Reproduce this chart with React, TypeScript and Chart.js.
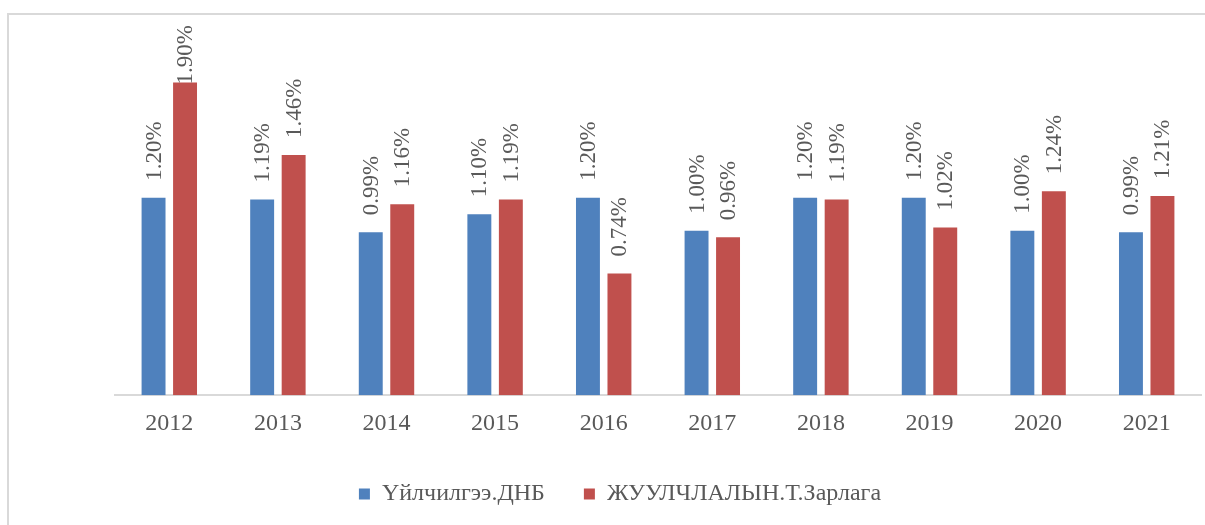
import React, { useEffect, useRef } from "react";
import { Chart, registerables } from "chart.js";

Chart.register(...registerables);

const years = ["2012", "2013", "2014", "2015", "2016", "2017", "2018", "2019", "2020", "2021"];
const serviceGdp = [1.2, 1.19, 0.99, 1.1, 1.2, 1.0, 1.2, 1.2, 1.0, 0.99];
const tourismSpend = [1.9, 1.46, 1.16, 1.19, 0.74, 0.96, 1.19, 1.02, 1.24, 1.21];
const seriesNames = ["Үйлчилгээ.ДНБ", "ЖУУЛЧЛАЛЫН.Т.Зарлага"];
const seriesColors = ["#4f81bd", "#c0504d"];

const FONT = "'Liberation Serif', 'Times New Roman', serif";
const TEXT = "#595959";

Chart.defaults.font.family = FONT;
Chart.defaults.color = TEXT;

const framePlugin = {
  id: "frame",
  beforeDraw(chart: any) {
    const ctx = chart.ctx;
    ctx.save();
    ctx.fillStyle = "#ffffff";
    ctx.fillRect(0, 0, chart.width, chart.height);
    ctx.strokeStyle = "#d9d9d9";
    ctx.lineWidth = 2;
    ctx.strokeRect(8, 14, chart.width + 100, chart.height + 100);
    ctx.restore();
  },
};

const labelPlugin = {
  id: "vlabels",
  afterDatasetsDraw(chart: any) {
    const ctx = chart.ctx;
    const top = chart.chartArea.top;
    ctx.save();
    ctx.font = `23px ${FONT}`;
    ctx.fillStyle = TEXT;
    ctx.textAlign = "left";
    ctx.textBaseline = "middle";
    chart.data.datasets.forEach((ds: any, di: number) => {
      const meta = chart.getDatasetMeta(di);
      meta.data.forEach((el: any, i: number) => {
        const txt = ds.data[i].toFixed(2) + "%";
        const w = ctx.measureText(txt).width;
        let start = el.y - 17;
        if (start - w < top) start = top + w;
        ctx.save();
        ctx.translate(el.x + 1, start);
        ctx.rotate(-Math.PI / 2);
        ctx.fillText(txt, 0, 0);
        ctx.restore();
      });
    });
    ctx.restore();
  },
};

export default function App() {
  const ref = useRef<HTMLCanvasElement | null>(null);
  useEffect(() => {
    if (!ref.current) return;
    const chart = new Chart(ref.current, {
      type: "bar",
      data: {
        labels: years,
        datasets: [
          { label: seriesNames[0], data: serviceGdp, backgroundColor: seriesColors[0] },
          { label: seriesNames[1], data: tourismSpend, backgroundColor: seriesColors[1] },
        ],
      },
      options: {
        responsive: false,
        animation: false,
        layout: { padding: { left: 39, right: 4, top: 25, bottom: 9 } },
        datasets: { bar: { categoryPercentage: 0.58, barPercentage: 0.76 } },
        scales: {
          x: {
            grid: { display: false, drawTicks: false },
            border: { display: true, color: "#d9d9d9", width: 2 },
            ticks: { color: TEXT, font: { family: FONT, size: 24 }, padding: 14 },
            afterFit: (s: any) => {
              s.height -= 9;
            },
          },
          y: {
            display: true,
            min: 0,
            max: 2.25,
            grid: { display: false, drawTicks: false },
            border: { display: false },
            ticks: { display: false },
            afterFit: (s: any) => {
              s.width = 76;
            },
          },
        },
        plugins: {
          legend: {
            position: "bottom",
            labels: {
              boxWidth: 11,
              boxHeight: 11,
              padding: 39,
              color: TEXT,
              font: { family: FONT, size: 24 },
            },
          },
          tooltip: { enabled: false },
        },
      },
      plugins: [framePlugin, labelPlugin],
    } as any);
    return () => chart.destroy();
  }, []);
  return (
    <div style={{ position: "absolute", left: 0, top: 0, width: 1205, height: 525, overflow: "hidden" }}>
      <canvas ref={ref} width={1205} height={525} style={{ display: "block" }} />
    </div>
  );
}
